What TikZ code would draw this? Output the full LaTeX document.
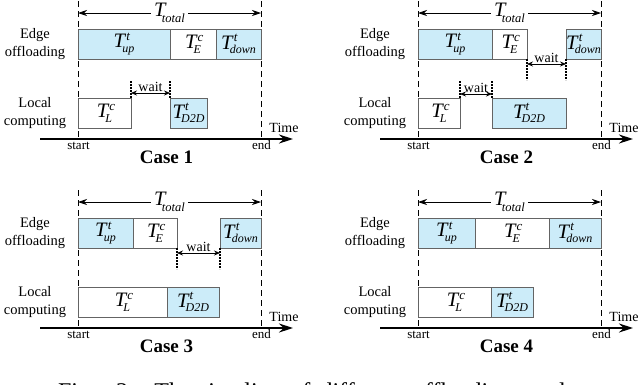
\documentclass[tikz,border=0pt]{standalone}
\usepackage{fontspec}
\setmainfont{Liberation Serif}
\usetikzlibrary{arrows.meta}
\definecolor{lblue}{RGB}{204,236,249}
\definecolor{boxline}{RGB}{100,100,100}
\newcommand{\tv}[2]{{\fontsize{20.5}{20.5}\selectfont\textit{T}}\rlap{\raisebox{7.5pt}{\fontsize{13}{13}\selectfont\textit{#1}}}\kern-4pt\raisebox{-4.5pt}{\fontsize{12}{12}\selectfont\textit{#2}}}
\newcommand{\ttot}{{\fontsize{20.5}{20.5}\selectfont\textit{T}}\kern-5pt\raisebox{-5.5pt}{\fontsize{12.5}{12.5}\selectfont\textit{total}}}
\tikzset{
 every node/.style={inner sep=0pt, outer sep=0pt},
 bluebox/.style={draw=boxline, fill=lblue, line width=0.8pt, minimum height=30pt},
 whitebox/.style={draw=boxline, fill=white, line width=0.8pt, minimum height=30pt},
 guide/.style={black, line width=0.8pt, dash pattern=on 6pt off 4pt},
 marker/.style={black, line width=1.3pt, dash pattern=on 1.6pt off 1.4pt},
 waitarrow/.style={{Stealth[length=6pt,width=5pt]}-{Stealth[length=6pt,width=5pt]}, line width=0.8pt},
 totarrow/.style={{Stealth[length=9pt,width=6pt]}-{Stealth[length=9pt,width=6pt]}, line width=0.8pt},
 axisline/.style={-{Stealth[length=14pt,width=9pt]}, line width=1.4pt},
 rowlabel/.style={align=center, font=\fontsize{14.5}{18}\selectfont},
 smalltext/.style={font=\fontsize{13}{13}\selectfont},
 timetext/.style={font=\fontsize{14}{14}\selectfont},
 waitlabel/.style={font=\fontsize{14}{14}\selectfont, anchor=south, inner sep=1pt},
 casetitle/.style={font=\fontsize{19}{19}\selectfont\bfseries},
 totlabel/.style={fill=white, inner sep=3pt},
}
\newcommand{\panelframe}{%
  \coordinate (st) at (78,1); \coordinate (sb) at (78,139);
  \coordinate (et) at (261,1); \coordinate (eb) at (261,139);
  \draw[guide] (st) -- (sb);
  \draw[guide] (et) -- (eb);
  \coordinate (ax0) at (40,139); \coordinate (ax1) at (293,139);
  \draw[axisline] (ax0) -- (ax1);
  \coordinate (tl) at (78,13); \coordinate (tr) at (261,13);
  \draw[totarrow] (tl) -- node[totlabel] (tot) {\ttot} (tr);
  \node[rowlabel] (eo) at (35,44) {Edge\\offloading};
  \node[rowlabel] (lc) at (35,113) {Local\\computing};
  \node[smalltext] (start) at (78.5,145.5) {start};
  \node[smalltext] (end) at (261.5,145.5) {end};
  \node[timetext] (time) at (284,128) {Time};
}
\begin{document}
\begin{tikzpicture}[x=1pt,y=-1pt]
\useasboundingbox (0,0) rectangle (640,384);
\clip (0,0) rectangle (640,384);
% ---------- Case 1 ----------
\begin{scope}[name prefix=a-]
  \panelframe
  \node[bluebox, minimum width=92pt] (up) at (124,44) {\tv{t}{up}};
  \node[whitebox, minimum width=46pt] (E) at (193,44) {\tv{c}{E}};
  \node[bluebox, minimum width=45pt] (down) at (238.5,44) {\tv{t}{down}};
  \node[whitebox, minimum width=53pt] (L) at (104.5,113) {\tv{c}{L}};
  \node[bluebox, minimum width=37pt] (D) at (188.5,113) {\tv{t}{D2D}};
  \coordinate (m1) at (131,81); \coordinate (m2) at (170,81);
  \draw[marker] (m1) -- (L.north east);
  \draw[marker] (m2) -- (D.north west);
  \coordinate (w1) at (131,93); \coordinate (w2) at (170,93);
  \draw[waitarrow] (w1) -- node[waitlabel] (wt) {wait} (w2);
  \node[casetitle] (case) at (166.5,157.5) {Case 1};
\end{scope}
% ---------- Case 2 ----------
\begin{scope}[shift={(340,0)}, name prefix=b-]
  \panelframe
  \node[bluebox, minimum width=74pt] (up) at (115,44) {\tv{t}{up}};
  \node[whitebox, minimum width=35pt] (E) at (169.5,44) {\tv{c}{E}};
  \node[bluebox, minimum width=35pt] (down) at (243.5,44) {\tv{t}{down}};
  \node[whitebox, minimum width=42pt] (L) at (99,113) {\tv{c}{L}};
  \node[bluebox, minimum width=74pt] (D) at (189,113) {\tv{t}{D2D}};
  \coordinate (n1) at (187,80); \coordinate (n2) at (226,80);
  \draw[marker] (E.south east) -- (n1);
  \draw[marker] (down.south west) -- (n2);
  \coordinate (v1) at (187,64); \coordinate (v2) at (226,64);
  \draw[waitarrow] (v1) -- node[waitlabel] (wt1) {wait} (v2);
  \coordinate (m1) at (120,81); \coordinate (m2) at (152,81);
  \draw[marker] (m1) -- (L.north east);
  \draw[marker] (m2) -- (D.north west);
  \coordinate (w1) at (120,94); \coordinate (w2) at (152,94);
  \draw[waitarrow] (w1) -- node[waitlabel] (wt2) {wait} (w2);
  \node[casetitle] (case) at (166.5,157.5) {Case 2};
\end{scope}
% ---------- Case 3 ----------
\begin{scope}[shift={(0,189)}, name prefix=c-]
  \panelframe
  \node[bluebox, minimum width=55pt] (up) at (105.5,44) {\tv{t}{up}};
  \node[whitebox, minimum width=44pt] (E) at (155,44) {\tv{c}{E}};
  \node[bluebox, minimum width=41pt] (down) at (240.5,44) {\tv{t}{down}};
  \node[whitebox, minimum width=89pt] (L) at (122.5,113) {\tv{c}{L}};
  \node[bluebox, minimum width=52pt] (D) at (193,113) {\tv{t}{D2D}};
  \coordinate (n1) at (177,80); \coordinate (n2) at (220,80);
  \draw[marker] (E.south east) -- (n1);
  \draw[marker] (down.south west) -- (n2);
  \coordinate (v1) at (177,64); \coordinate (v2) at (220,64);
  \draw[waitarrow] (v1) -- node[waitlabel] (wt) {wait} (v2);
  \node[casetitle] (case) at (166.5,157.5) {Case 3};
\end{scope}
% ---------- Case 4 ----------
\begin{scope}[shift={(340,189)}, name prefix=d-]
  \panelframe
  \node[bluebox, minimum width=57pt] (up) at (106.5,44) {\tv{t}{up}};
  \node[whitebox, minimum width=74pt] (E) at (172,44) {\tv{c}{E}};
  \node[bluebox, minimum width=52pt] (down) at (235,44) {\tv{t}{down}};
  \node[whitebox, minimum width=73pt] (L) at (114.5,113) {\tv{c}{L}};
  \node[bluebox, minimum width=42pt] (D) at (172,113) {\tv{t}{D2D}};
  \node[casetitle] (case) at (166.5,157.5) {Case 4};
\end{scope}
% ---------- caption (cut by the lower edge) ----------
\node[anchor=base west] (cap) at (58,399) {\makebox[527pt][s]{\fontsize{24}{24}\selectfont Fig. 2. The timeline of different offloading modes}};
\end{tikzpicture}
\end{document}
